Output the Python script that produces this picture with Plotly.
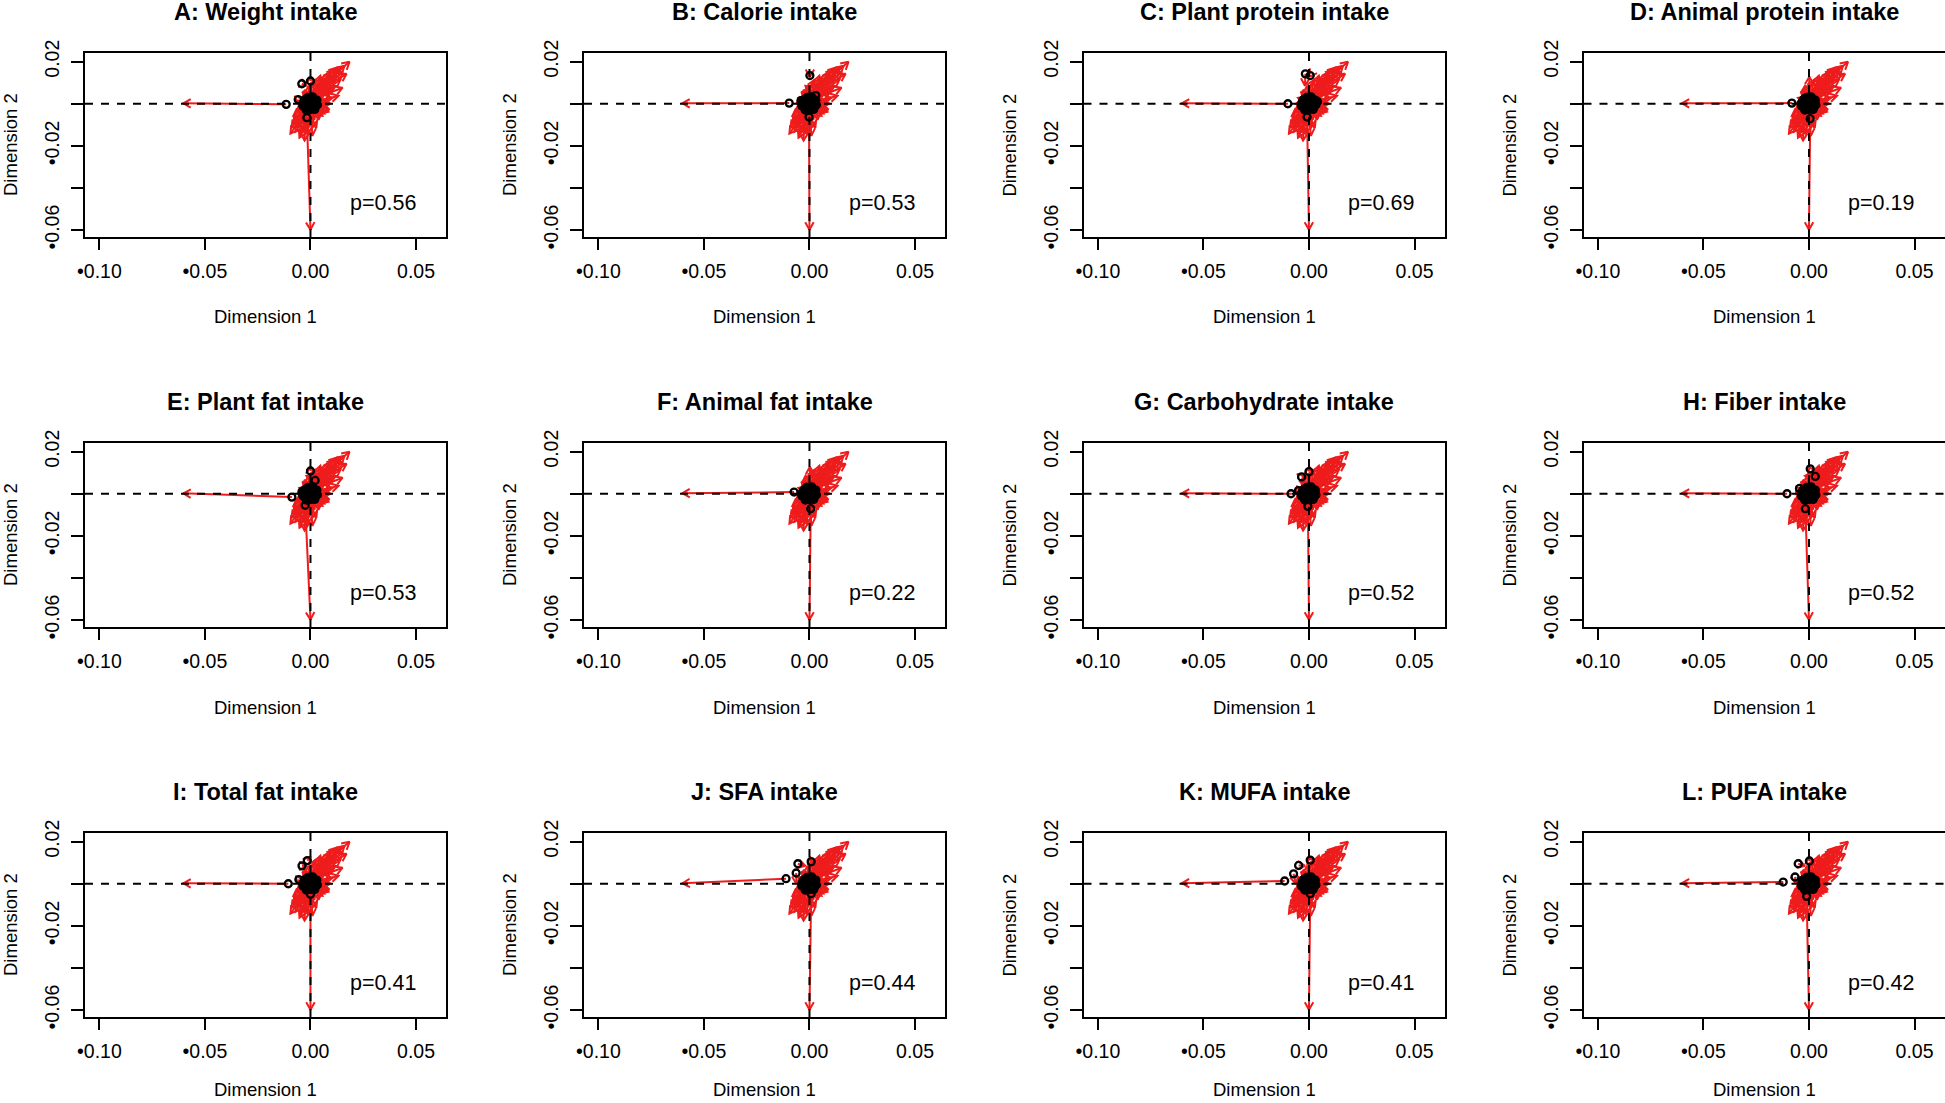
import math
import plotly.graph_objects as go

# ---------------- data ----------------
panel_titles = ["A: Weight intake", "B: Calorie intake", "C: Plant protein intake",
                "D: Animal protein intake", "E: Plant fat intake", "F: Animal fat intake",
                "G: Carbohydrate intake", "H: Fiber intake", "I: Total fat intake",
                "J: SFA intake", "K: MUFA intake", "L: PUFA intake"]
p_values = ["0.56", "0.53", "0.69", "0.19", "0.53", "0.22",
            "0.52", "0.52", "0.41", "0.44", "0.41", "0.42"]

x_tick_vals = [-0.10, -0.05, 0.00, 0.05]
x_tick_text = ["\u20220.10", "\u20220.05", "0.00", "0.05"]
y_tick_vals = [0.02, 0.00, -0.02, -0.04, -0.06]
y_tick_text = ["0.02", "", "\u20220.02", "", "\u20220.06"]

# target configuration (arrow heads), shared by all panels
target_d1 = [-0.0602, 0.0000, 0.0002, -0.0019, -0.0062,
             0.0185, 0.0161, 0.0142, 0.0171, 0.0123, 0.0114, 0.0142, 0.0095, 0.0076, 0.0119,
             0.0100, 0.0057, 0.0038, 0.0085, 0.0104, 0.0095, 0.0090, 0.0066, 0.0019, -0.0038,
             -0.0052, -0.0066, -0.0076, -0.0090, -0.0095, -0.0071, -0.0052, -0.0028, -0.0038, -0.0014,
             -0.0057, 0.0009, -0.0024, 0.0019, 0.0038, 0.0071, 0.0047, 0.0133, 0.0152, -0.0081,
             -0.0005,
             0.0024, 0.0057, 0.0085, 0.0114, 0.0142, 0.0066, 0.0095, 0.0123, 0.0152, 0.0038,
             0.0076, 0.0104, 0.0057, 0.0081, 0.0076, 0.0057, 0.0085, 0.0028, 0.0009, -0.0019,
             -0.0047, -0.0066, -0.0081, -0.0047, -0.0019, 0.0009, 0.0038, -0.0057, -0.0047, -0.0028,
             -0.0009]
target_d2 = [0.0002, -0.0598, 0.0128, 0.0085, 0.0000,
             0.0199, 0.0180, 0.0161, 0.0142, 0.0171, 0.0133, 0.0114, 0.0152, 0.0123, 0.0085,
             0.0057, 0.0104, 0.0085, 0.0076, 0.0028, 0.0000, -0.0028, -0.0047, 0.0104, 0.0057,
             0.0028, -0.0038, -0.0076, -0.0114, -0.0142, -0.0133, -0.0161, -0.0175, -0.0123, -0.0142,
             -0.0095, -0.0114, -0.0085, -0.0076, -0.0038, 0.0009, 0.0133, 0.0038, 0.0076, -0.0057,
             -0.0104,
             0.0114, 0.0123, 0.0142, 0.0161, 0.0175, 0.0095, 0.0114, 0.0133, 0.0152, 0.0076,
             0.0066, 0.0076, 0.0028, 0.0019, -0.0019, -0.0057, -0.0038, -0.0114, -0.0152, -0.0133,
             -0.0142, -0.0114, -0.0095, -0.0066, -0.0095, -0.0085, -0.0076, -0.0019, 0.0019, 0.0066,
             0.0085]

# rotated configuration: dense central cluster (shared) ...
blob_d1 = [-0.0011, -0.0001, 0.0008,
           -0.0022, -0.0012, -0.0003, 0.0007, 0.0017,
           -0.0030, -0.0020, -0.0010, 0.0001, 0.0011, 0.0020,
           -0.0032, -0.0023, -0.0013, -0.0003, 0.0008, 0.0018, 0.0024,
           -0.0029, -0.0019, -0.0009, 0.0001, 0.0011, 0.0021,
           -0.0023, -0.0013, -0.0003, 0.0007, 0.0015,
           -0.0012, -0.0002, 0.0006,
           -0.0006, 0.0004, -0.0016, 0.0002, 0.0013, -0.0008,
           -0.0017, 0.0004, 0.0017, -0.0027, -0.0006, 0.0013, 0.0027, -0.0020, 0.0000, 0.0020,
           -0.0030, -0.0010, 0.0006, 0.0023, -0.0023, -0.0004, 0.0013, -0.0013, 0.0000, -0.0033,
           0.0030, -0.0010, 0.0010, -0.0020, 0.0020, -0.0036, 0.0033, 0.0006, -0.0013, 0.0004,
           -0.0006]
blob_d2 = [0.0029, 0.0030, 0.0028,
           0.0022, 0.0023, 0.0022, 0.0021, 0.0020,
           0.0013, 0.0013, 0.0014, 0.0012, 0.0013, 0.0011,
           0.0003, 0.0004, 0.0002, 0.0004, 0.0003, 0.0002, 0.0004,
           -0.0007, -0.0006, -0.0008, -0.0007, -0.0006, -0.0008,
           -0.0017, -0.0018, -0.0016, -0.0017, -0.0015,
           -0.0024, -0.0025, -0.0023,
           0.0007, -0.0001, -0.0002, 0.0017, 0.0008, -0.0013,
           0.0023, 0.0027, 0.0020, 0.0017, 0.0017, 0.0010, 0.0006, 0.0006, 0.0006, -0.0004,
           -0.0004, -0.0004, -0.0006, -0.0013, -0.0013, -0.0013, -0.0020, -0.0023, -0.0027, 0.0006,
           0.0017, 0.0030, 0.0033, -0.0030, -0.0027, -0.0010, -0.0006, 0.0020, 0.0013, -0.0020,
           0.0000]

# ... and the per-panel outlying samples (paired with the first five targets)
outlier_d1 = [
    [-0.0115, -0.0017, 0.0000, -0.0041, -0.0058],   # A
    [-0.0096, -0.0002, 0.0002, 0.0030, -0.0040],    # B
    [-0.0100, -0.0009, 0.0006, -0.0017, 0.0040],    # C
    [-0.0081, 0.0006, 0.0000, -0.0020, -0.0035],    # D
    [-0.0088, -0.0025, 0.0000, 0.0022, -0.0040],    # E
    [-0.0073, 0.0006, 0.0005, -0.0015, -0.0030],    # F
    [-0.0085, -0.0005, 0.0000, -0.0035, -0.0050],   # G
    [-0.0104, -0.0017, 0.0006, 0.0030, -0.0045],    # H
    [-0.0105, 0.0000, -0.0015, -0.0040, -0.0055],   # I
    [-0.0111, 0.0008, 0.0008, -0.0055, -0.0063],    # J
    [-0.0115, 0.0006, 0.0006, -0.0049, -0.0073],    # K
    [-0.0122, -0.0011, 0.0002, -0.0051, -0.0066],   # L
]
outlier_d2 = [
    [-0.0003, -0.0066, 0.0108, 0.0095, 0.0020],     # A
    [0.0003, -0.0063, 0.0134, 0.0039, 0.0015],      # B
    [0.0000, -0.0063, 0.0134, 0.0142, 0.0010],      # C
    [0.0003, -0.0071, 0.0030, 0.0025, 0.0005],      # D
    [-0.0016, -0.0055, 0.0108, 0.0063, 0.0010],     # E
    [0.0008, -0.0071, 0.0030, 0.0030, 0.0000],      # F
    [0.0000, -0.0060, 0.0105, 0.0080, 0.0015],      # G
    [0.0000, -0.0071, 0.0118, 0.0082, 0.0025],      # H
    [0.0000, -0.0050, 0.0110, 0.0085, 0.0020],      # I
    [0.0024, -0.0047, 0.0105, 0.0095, 0.0051],      # J
    [0.0013, -0.0047, 0.0112, 0.0087, 0.0047],      # K
    [0.0008, -0.0060, 0.0108, 0.0095, 0.0032],      # L
]

# ---------------- layout constants ----------------
W, H = 1945, 1103
BOX_LEFT = [85, 584, 1083.5, 1583.5]
BOX_TOP = [53, 443, 833]
BOX_W, BOX_H = 361, 184
X_RANGE = [-0.1068, 0.0642]
Y_RANGE = [-0.0633, 0.0241]
RED = "#ee1c1c"
FONT = "Liberation Sans, Arial, Helvetica, sans-serif"
HEAD_PX = 8.5            # arrow-head length in pixels
HEAD_ANGLE = math.radians(30)

# pixels per data unit (used only to shape arrow heads)
SX = BOX_W / (X_RANGE[1] - X_RANGE[0])
SY = BOX_H / (Y_RANGE[1] - Y_RANGE[0])

fig = go.Figure()
annotations = []
shapes = []
layout_axes = {}

for k in range(12):
    r, c = divmod(k, 4)
    L = BOX_LEFT[c]
    T = BOX_TOP[r]
    sfx = "" if k == 0 else str(k + 1)
    xref, yref = "x" + sfx, "y" + sfx

    layout_axes["xaxis" + sfx] = dict(
        domain=[L / W, min(1.0, (L + BOX_W) / W)], range=X_RANGE, anchor=yref,
        tickmode="array", tickvals=x_tick_vals, ticktext=x_tick_text,
        ticks="outside", ticklen=11, tickwidth=2, tickcolor="black",
        showline=True, linewidth=2, linecolor="black", mirror=True,
        showgrid=False, zeroline=False, ticklabelstandoff=5, automargin=False,
        tickfont=dict(family=FONT, size=19.5, color="black"), fixedrange=True)
    layout_axes["yaxis" + sfx] = dict(
        domain=[1 - (T + BOX_H) / H, 1 - T / H], range=Y_RANGE, anchor=xref,
        tickmode="array", tickvals=y_tick_vals, ticktext=y_tick_text, tickangle=-90,
        ticks="outside", ticklen=12, tickwidth=2, tickcolor="black",
        showline=True, linewidth=2, linecolor="black", mirror=True,
        showgrid=False, zeroline=False, ticklabelstandoff=4, automargin=False,
        tickfont=dict(family=FONT, size=19.5, color="black"), fixedrange=True)

    yr_d1 = outlier_d1[k] + blob_d1
    yr_d2 = outlier_d2[k] + blob_d2

    seg_x, seg_y = [], []
    for i in range(len(target_d1)):
        x0, y0 = yr_d1[i], yr_d2[i]
        x1, y1 = target_d1[i], target_d2[i]
        # direction in screen pixels
        px, py = (x1 - x0) * SX, (y1 - y0) * SY
        d = math.hypot(px, py) or 1.0
        ux, uy = px / d, py / d
        wings = []
        for sgn in (1, -1):
            ca, sa = math.cos(sgn * HEAD_ANGLE), math.sin(sgn * HEAD_ANGLE)
            wx = ux * ca - uy * sa
            wy = ux * sa + uy * ca
            wings.append((x1 - wx * HEAD_PX / SX, y1 - wy * HEAD_PX / SY))
        seg_x += [x0, x1, None, wings[0][0], x1, wings[1][0], None]
        seg_y += [y0, y1, None, wings[0][1], y1, wings[1][1], None]

    fig.add_trace(go.Scatter(x=seg_x, y=seg_y, mode="lines", xaxis=xref, yaxis=yref,
                             line=dict(color=RED, width=2.0), hoverinfo="skip",
                             showlegend=False))
    fig.add_trace(go.Scatter(x=yr_d1, y=yr_d2, mode="markers", xaxis=xref, yaxis=yref,
                             marker=dict(symbol="circle-open", size=7, color="black",
                                         line=dict(color="black", width=2.3)),
                             hoverinfo="skip", showlegend=False))

    # dashed reference lines
    shapes.append(dict(type="line", xref=xref, yref=yref + " domain", x0=0, x1=0, y0=0, y1=1,
                       line=dict(color="black", width=2, dash="8px,8px"), layer="above"))
    shapes.append(dict(type="line", xref=xref + " domain", yref=yref, x0=0, x1=1, y0=0, y1=0,
                       line=dict(color="black", width=2, dash="8px,8px"), layer="above"))

    cx = (L + BOX_W / 2) / W
    annotations.append(dict(text="<b>" + panel_titles[k] + "</b>", xref="paper", yref="paper",
                            x=cx, y=1 - (T - 41) / H, showarrow=False,
                            xanchor="center", yanchor="middle",
                            font=dict(family=FONT, size=23.5, color="black")))
    dim1_y = T + BOX_H + (72 if r == 2 else 80)
    annotations.append(dict(text="Dimension 1", xref="paper", yref="paper",
                            x=cx, y=1 - dim1_y / H, showarrow=False,
                            xanchor="center", yanchor="middle",
                            font=dict(family=FONT, size=18.5, color="black")))
    annotations.append(dict(text="Dimension 2", xref="paper", yref="paper", textangle=-90,
                            x=(L - 75) / W, y=1 - (T + BOX_H / 2) / H, showarrow=False,
                            xanchor="center", yanchor="middle",
                            font=dict(family=FONT, size=18.5, color="black")))
    annotations.append(dict(text="p=" + p_values[k], xref=xref, yref=yref,
                            x=0.0342, y=-0.0471, showarrow=False,
                            xanchor="center", yanchor="middle",
                            font=dict(family=FONT, size=21.5, color="black")))

fig.update_layout(
    width=W, height=H, margin=dict(l=0, r=0, t=0, b=0, autoexpand=False),
    paper_bgcolor="white", plot_bgcolor="white",
    showlegend=False, hovermode=False,
    annotations=annotations, shapes=shapes, **layout_axes)

fig.write_html("out.html", config={"displayModeBar": False, "staticPlot": True},
               post_script="document.body.style.margin='0';"
                           "document.body.style.overflow='hidden';")
